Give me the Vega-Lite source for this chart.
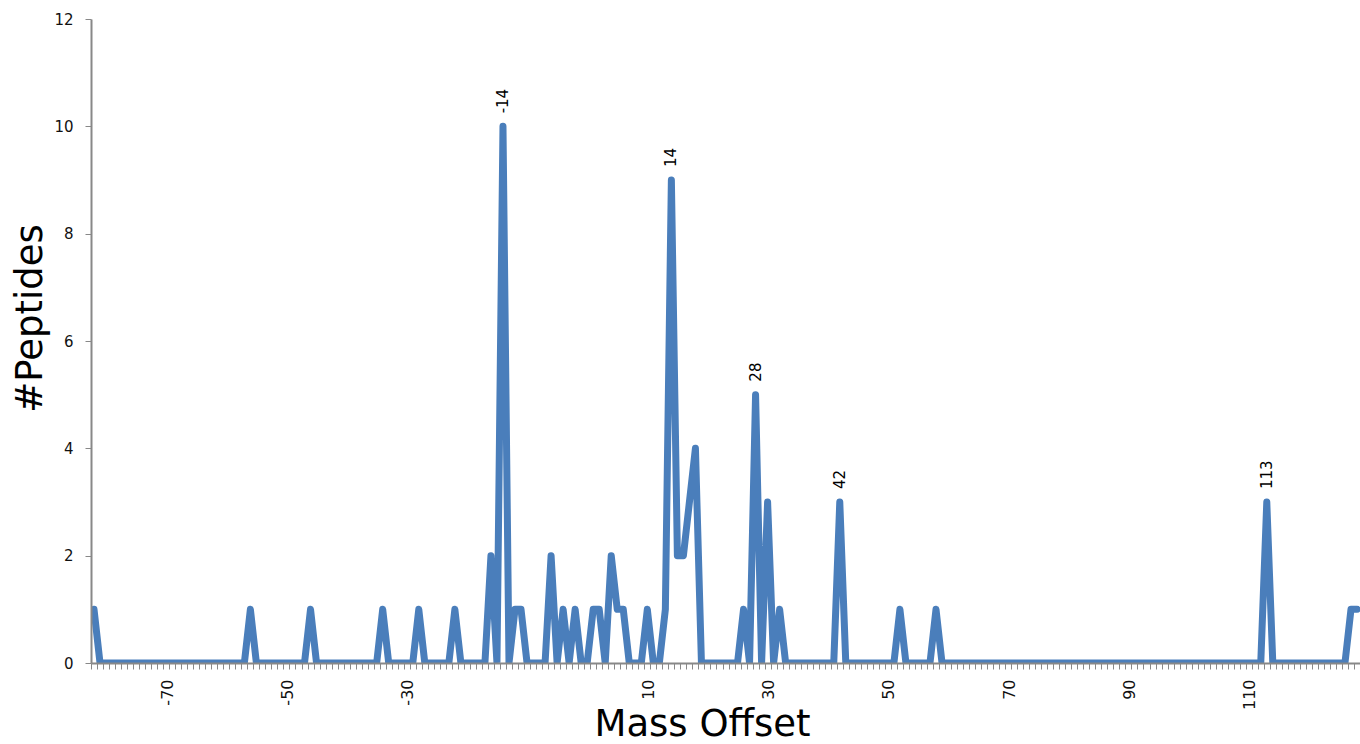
{
  "$schema": "https://vega.github.io/schema/vega-lite/v6.json",
  "width": 1269,
  "height": 644,
  "autosize": "none",
  "padding": {"left": 91, "top": 19, "right": 0, "bottom": 81},
  "background": "white",
  "config": {"view": {"stroke": null}, "font": "DejaVu Sans"},
  "datasets": {
    "counts": [
      {"offset": -82, "count": 1}, {"offset": -81, "count": 0}, {"offset": -80, "count": 0}, {"offset": -79, "count": 0},
      {"offset": -78, "count": 0}, {"offset": -77, "count": 0}, {"offset": -76, "count": 0}, {"offset": -75, "count": 0},
      {"offset": -74, "count": 0}, {"offset": -73, "count": 0}, {"offset": -72, "count": 0}, {"offset": -71, "count": 0},
      {"offset": -70, "count": 0}, {"offset": -69, "count": 0}, {"offset": -68, "count": 0}, {"offset": -67, "count": 0},
      {"offset": -66, "count": 0}, {"offset": -65, "count": 0}, {"offset": -64, "count": 0}, {"offset": -63, "count": 0},
      {"offset": -62, "count": 0}, {"offset": -61, "count": 0}, {"offset": -60, "count": 0}, {"offset": -59, "count": 0},
      {"offset": -58, "count": 0}, {"offset": -57, "count": 0}, {"offset": -56, "count": 1}, {"offset": -55, "count": 0},
      {"offset": -54, "count": 0}, {"offset": -53, "count": 0}, {"offset": -52, "count": 0}, {"offset": -51, "count": 0},
      {"offset": -50, "count": 0}, {"offset": -49, "count": 0}, {"offset": -48, "count": 0}, {"offset": -47, "count": 0},
      {"offset": -46, "count": 1}, {"offset": -45, "count": 0}, {"offset": -44, "count": 0}, {"offset": -43, "count": 0},
      {"offset": -42, "count": 0}, {"offset": -41, "count": 0}, {"offset": -40, "count": 0}, {"offset": -39, "count": 0},
      {"offset": -38, "count": 0}, {"offset": -37, "count": 0}, {"offset": -36, "count": 0}, {"offset": -35, "count": 0},
      {"offset": -34, "count": 1}, {"offset": -33, "count": 0}, {"offset": -32, "count": 0}, {"offset": -31, "count": 0},
      {"offset": -30, "count": 0}, {"offset": -29, "count": 0}, {"offset": -28, "count": 1}, {"offset": -27, "count": 0},
      {"offset": -26, "count": 0}, {"offset": -25, "count": 0}, {"offset": -24, "count": 0}, {"offset": -23, "count": 0},
      {"offset": -22, "count": 1}, {"offset": -21, "count": 0}, {"offset": -20, "count": 0}, {"offset": -19, "count": 0},
      {"offset": -18, "count": 0}, {"offset": -17, "count": 0}, {"offset": -16, "count": 2}, {"offset": -15, "count": 0},
      {"offset": -14, "count": 10}, {"offset": -13, "count": 0}, {"offset": -12, "count": 1}, {"offset": -11, "count": 1},
      {"offset": -10, "count": 0}, {"offset": -9, "count": 0}, {"offset": -8, "count": 0}, {"offset": -7, "count": 0},
      {"offset": -6, "count": 2}, {"offset": -5, "count": 0}, {"offset": -4, "count": 1}, {"offset": -3, "count": 0},
      {"offset": -2, "count": 1}, {"offset": -1, "count": 0}, {"offset": 0, "count": 0}, {"offset": 1, "count": 1},
      {"offset": 2, "count": 1}, {"offset": 3, "count": 0}, {"offset": 4, "count": 2}, {"offset": 5, "count": 1},
      {"offset": 6, "count": 1}, {"offset": 7, "count": 0}, {"offset": 8, "count": 0}, {"offset": 9, "count": 0},
      {"offset": 10, "count": 1}, {"offset": 11, "count": 0}, {"offset": 12, "count": 0}, {"offset": 13, "count": 1},
      {"offset": 14, "count": 9}, {"offset": 15, "count": 2}, {"offset": 16, "count": 2}, {"offset": 17, "count": 3},
      {"offset": 18, "count": 4}, {"offset": 19, "count": 0}, {"offset": 20, "count": 0}, {"offset": 21, "count": 0},
      {"offset": 22, "count": 0}, {"offset": 23, "count": 0}, {"offset": 24, "count": 0}, {"offset": 25, "count": 0},
      {"offset": 26, "count": 1}, {"offset": 27, "count": 0}, {"offset": 28, "count": 5}, {"offset": 29, "count": 0},
      {"offset": 30, "count": 3}, {"offset": 31, "count": 0}, {"offset": 32, "count": 1}, {"offset": 33, "count": 0},
      {"offset": 34, "count": 0}, {"offset": 35, "count": 0}, {"offset": 36, "count": 0}, {"offset": 37, "count": 0},
      {"offset": 38, "count": 0}, {"offset": 39, "count": 0}, {"offset": 40, "count": 0}, {"offset": 41, "count": 0},
      {"offset": 42, "count": 3}, {"offset": 43, "count": 0}, {"offset": 44, "count": 0}, {"offset": 45, "count": 0},
      {"offset": 46, "count": 0}, {"offset": 47, "count": 0}, {"offset": 48, "count": 0}, {"offset": 49, "count": 0},
      {"offset": 50, "count": 0}, {"offset": 51, "count": 0}, {"offset": 52, "count": 1}, {"offset": 53, "count": 0},
      {"offset": 54, "count": 0}, {"offset": 55, "count": 0}, {"offset": 56, "count": 0}, {"offset": 57, "count": 0},
      {"offset": 58, "count": 1}, {"offset": 59, "count": 0}, {"offset": 60, "count": 0}, {"offset": 61, "count": 0},
      {"offset": 62, "count": 0}, {"offset": 63, "count": 0}, {"offset": 64, "count": 0}, {"offset": 65, "count": 0},
      {"offset": 66, "count": 0}, {"offset": 67, "count": 0}, {"offset": 68, "count": 0}, {"offset": 69, "count": 0},
      {"offset": 70, "count": 0}, {"offset": 71, "count": 0}, {"offset": 72, "count": 0}, {"offset": 73, "count": 0},
      {"offset": 74, "count": 0}, {"offset": 75, "count": 0}, {"offset": 76, "count": 0}, {"offset": 77, "count": 0},
      {"offset": 78, "count": 0}, {"offset": 79, "count": 0}, {"offset": 80, "count": 0}, {"offset": 81, "count": 0},
      {"offset": 82, "count": 0}, {"offset": 83, "count": 0}, {"offset": 84, "count": 0}, {"offset": 85, "count": 0},
      {"offset": 86, "count": 0}, {"offset": 87, "count": 0}, {"offset": 88, "count": 0}, {"offset": 89, "count": 0},
      {"offset": 90, "count": 0}, {"offset": 91, "count": 0}, {"offset": 92, "count": 0}, {"offset": 93, "count": 0},
      {"offset": 94, "count": 0}, {"offset": 95, "count": 0}, {"offset": 96, "count": 0}, {"offset": 97, "count": 0},
      {"offset": 98, "count": 0}, {"offset": 99, "count": 0}, {"offset": 100, "count": 0}, {"offset": 101, "count": 0},
      {"offset": 102, "count": 0}, {"offset": 103, "count": 0}, {"offset": 104, "count": 0}, {"offset": 105, "count": 0},
      {"offset": 106, "count": 0}, {"offset": 107, "count": 0}, {"offset": 108, "count": 0}, {"offset": 109, "count": 0},
      {"offset": 110, "count": 0}, {"offset": 111, "count": 0}, {"offset": 112, "count": 0}, {"offset": 113, "count": 3},
      {"offset": 114, "count": 0}, {"offset": 115, "count": 0}, {"offset": 116, "count": 0}, {"offset": 117, "count": 0},
      {"offset": 118, "count": 0}, {"offset": 119, "count": 0}, {"offset": 120, "count": 0}, {"offset": 121, "count": 0},
      {"offset": 122, "count": 0}, {"offset": 123, "count": 0}, {"offset": 124, "count": 0}, {"offset": 125, "count": 0},
      {"offset": 126, "count": 0}, {"offset": 127, "count": 1}, {"offset": 128, "count": 1}
    ],
    "peaks": [
      {"offset": -14, "count": 10, "label": "-14"},
      {"offset": 14, "count": 9, "label": "14"},
      {"offset": 28, "count": 5, "label": "28"},
      {"offset": 42, "count": 3, "label": "42"},
      {"offset": 113, "count": 3, "label": "113"}
    ]
  },
  "layer": [
    {
      "data": {"name": "counts"},
      "mark": {"type": "line", "color": "#4a7ebb", "strokeWidth": 7, "strokeJoin": "round", "strokeCap": "round", "clip": true},
      "encoding": {
        "x": {
          "field": "offset", "type": "quantitative",
          "scale": {"domain": [-82.5, 128.5], "nice": false, "zero": false},
          "axis": {
            "title": "Mass Offset",
            "tickCount": 211,
            "labelExpr": "abs(datum.value % 20) == 10 && datum.value != -10 ? toString(datum.value) : ''",
            "labelAngle": 270,
            "labelFontSize": 16,
            "labelColor": "#111",
            "labelOverlap": false,
            "labelFlush": false,
            "labelBound": false,
            "labelPadding": 10,
            "tickSize": 6,
            "tickOffset": -3,
            "labelOffset": 4,
            "tickColor": "#888",
            "domainColor": "#888",
            "domainWidth": 2,
            "grid": false,
            "zindex": 1,
            "titleFontSize": 37,
            "titleFontWeight": "normal",
            "titleColor": "black",
            "titleX": 611,
            "titleY": 72,
            "titleBaseline": "alphabetic",
            "titleAlign": "center"
          }
        },
        "y": {
          "field": "count", "type": "quantitative",
          "scale": {"domain": [0, 12], "nice": false},
          "axis": {
            "title": "#Peptides",
            "values": [0, 2, 4, 6, 8, 10, 12],
            "format": "d",
            "labelFontSize": 15,
            "labelColor": "#111",
            "labelPadding": 12,
            "tickSize": 6,
            "tickColor": "#888",
            "domainColor": "#888",
            "domainWidth": 2,
            "grid": false,
            "zindex": 1,
            "titleFontSize": 37,
            "titleFontWeight": "normal",
            "titleColor": "black",
            "titleAngle": 270,
            "titleX": -50,
            "titleY": 299,
            "titleBaseline": "alphabetic",
            "titleAlign": "center"
          }
        }
      }
    },
    {
      "data": {"name": "peaks"},
      "mark": {"type": "text", "angle": 270, "align": "left", "baseline": "middle", "dx": 13, "fontSize": 15, "color": "black"},
      "encoding": {
        "x": {"field": "offset", "type": "quantitative"},
        "y": {"field": "count", "type": "quantitative"},
        "text": {"field": "label"}
      }
    }
  ]
}
